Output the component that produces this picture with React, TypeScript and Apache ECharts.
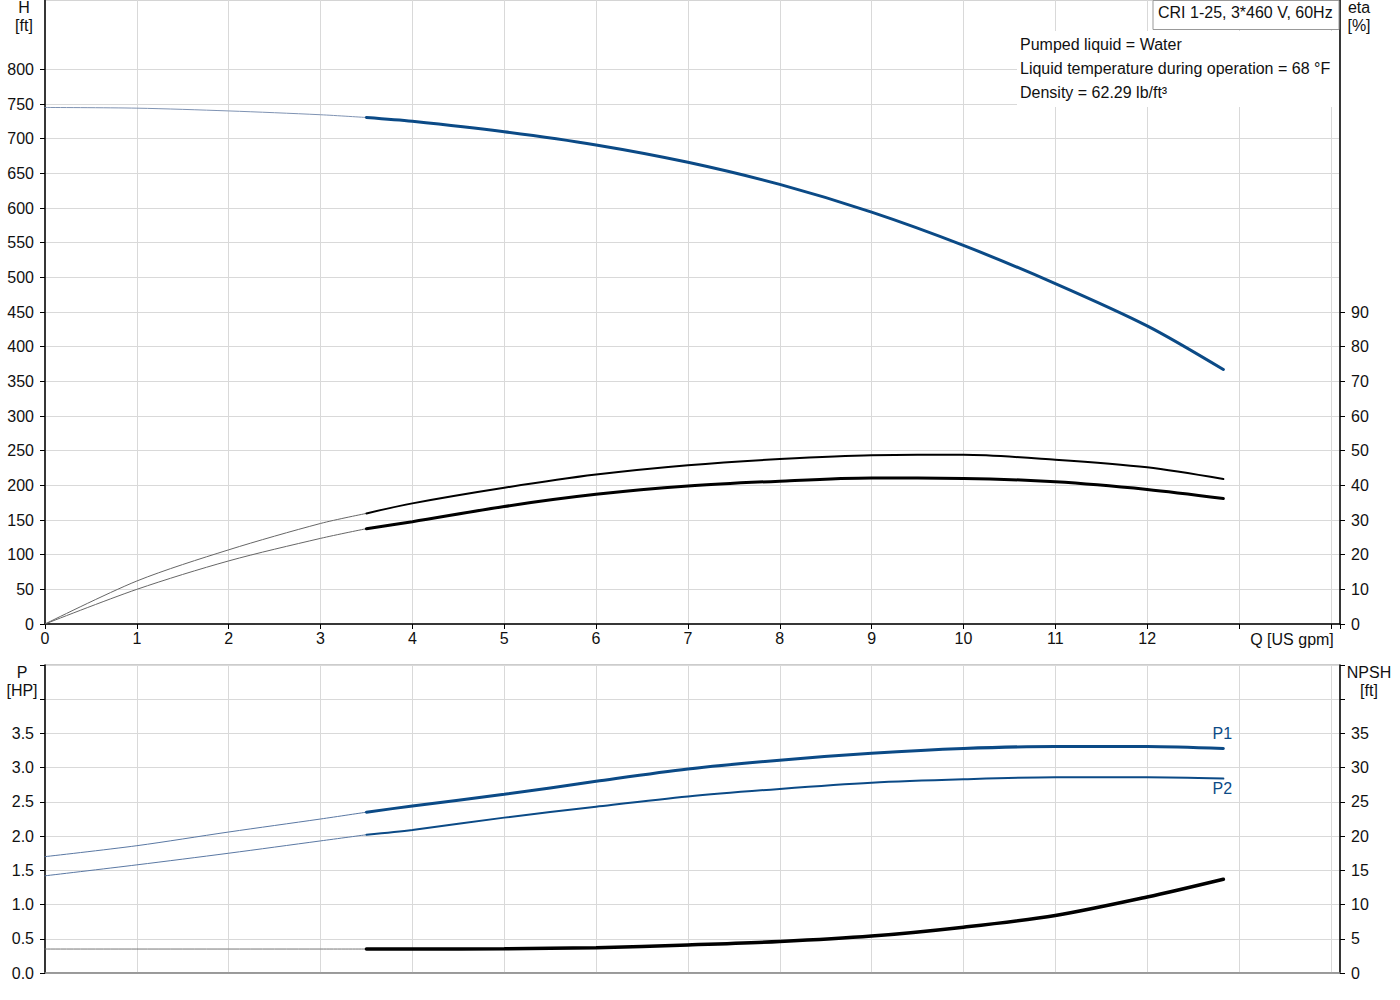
import React, { useEffect, useRef } from 'react';
import * as echarts from 'echarts';

// flow points (US gpm): thin part before the operating range, thick part inside it
const flowThin = [0, 1, 2, 3, 3.5];
const flowThick = [3.5, 4, 5, 6, 7, 8, 9, 10, 11, 12, 12.83];

// head H [ft]
const headThin = [745, 744, 740, 734.5, 730.5];
const headThick = [730.5, 725, 710, 691, 666, 634, 594, 546, 491, 430, 367];

// efficiencies eta [%]
const etaUpperThin = [0, 12.4, 21.4, 29.0, 31.9];
const etaUpperThick = [31.9, 34.8, 39.3, 43.1, 45.8, 47.6, 48.7, 48.8, 47.4, 45.2, 41.8];
const etaLowerThin = [0, 10.0, 18.2, 24.7, 27.5];
const etaLowerThick = [27.5, 29.5, 33.9, 37.4, 39.8, 41.2, 42.1, 42.0, 41.0, 38.8, 36.2];

// power P [HP]
const p1Thin = [1.70, 1.86, 2.06, 2.25, 2.35];
const p1Thick = [2.35, 2.44, 2.61, 2.80, 2.98, 3.11, 3.21, 3.28, 3.31, 3.31, 3.28];
const p2Thin = [1.42, 1.58, 1.75, 1.93, 2.02];
const p2Thick = [2.02, 2.09, 2.27, 2.43, 2.58, 2.69, 2.78, 2.83, 2.86, 2.86, 2.84];

// NPSH [ft]
const npshThin = [3.5, 3.5, 3.5, 3.5, 3.5];
const npshThick = [3.5, 3.5, 3.55, 3.7, 4.1, 4.6, 5.4, 6.7, 8.4, 11.1, 13.7];

// tick labels
const qLabels = [0, 1, 2, 3, 4, 5, 6, 7, 8, 9, 10, 11, 12];
const hLabels = [0, 50, 100, 150, 200, 250, 300, 350, 400, 450, 500, 550, 600, 650, 700, 750, 800];
const etaLabels = [0, 10, 20, 30, 40, 50, 60, 70, 80, 90];
const pLabels = [0, 0.5, 1, 1.5, 2, 2.5, 3, 3.5];
const npshLabels = [0, 5, 10, 15, 20, 25, 30, 35];

const infoLines = [
  'Pumped liquid = Water',
  'Liquid temperature during operation = 68 °F',
  'Density = 62.29 lb/ft³',
];

const BLUE = '#0b4a86';
const FONT = '"Liberation Sans", Arial, sans-serif';
const FS = 16;

const pts = (xs: number[], ys: number[]) => xs.map((x, i) => [x, ys[i]]);

const App = () => {
  const chartRef = useRef<any>(null);

  useEffect(() => {
    const chart = echarts.init(chartRef.current, null, { renderer: 'svg' });

    const line = (name: string, data: number[][], x: number, y: number, color: string, width: number, extra: any = {}) => ({
      name,
      type: 'line',
      xAxisIndex: x,
      yAxisIndex: y,
      data,
      smooth: 0.3,
      showSymbol: false,
      symbol: 'none',
      lineStyle: { color, width, cap: 'round' },
      silent: true,
      ...extra,
    });

    const xBase = {
      type: 'value',
      min: 0,
      max: 14.1,
      interval: 1,
      splitLine: { show: true, lineStyle: { color: '#d9d9d9', width: 1 } },
    };

    const label = (text: string, x: number, y: number, align = 'center') => ({
      type: 'text',
      z: 101,
      x,
      y,
      style: { text, font: `${FS}px ${FONT}`, fill: '#111', textAlign: align, textVerticalAlign: 'middle' },
    });

    const option: any = {
      animation: false,
      textStyle: { fontFamily: FONT, fontSize: FS, color: '#111' },
      grid: [
        { left: 45, width: 1295, top: 0, height: 624, show: true, borderColor: '#aaa', borderWidth: 1 },
        { left: 45, width: 1295, top: 665, height: 308, show: true, borderColor: '#999', borderWidth: 1 },
      ],
      xAxis: [
        {
          ...xBase,
          gridIndex: 0,
          axisLine: { show: true, onZero: false, lineStyle: { color: '#000', width: 1.5 } },
          axisTick: { show: true, length: 5, lineStyle: { color: '#000' } },
          axisLabel: { customValues: qLabels, margin: 6, color: '#111', fontSize: FS },
        },
        {
          ...xBase,
          gridIndex: 1,
          axisLine: { show: true, onZero: false, lineStyle: { color: '#888', width: 1.5 } },
          axisTick: { show: false },
          axisLabel: { show: false },
        },
      ],
      yAxis: [
        {
          type: 'value',
          gridIndex: 0,
          position: 'left',
          min: 0,
          max: 900,
          interval: 50,
          axisLine: { show: true, lineStyle: { color: '#000', width: 1.5 } },
          axisTick: { show: true, length: 5, customValues: hLabels, lineStyle: { color: '#000' } },
          axisLabel: { customValues: hLabels, margin: 11, color: '#111', fontSize: FS },
          splitLine: { show: true, lineStyle: { color: '#d9d9d9', width: 1 } },
        },
        {
          type: 'value',
          gridIndex: 0,
          position: 'right',
          min: 0,
          max: 180,
          interval: 10,
          axisLine: { show: true, lineStyle: { color: '#000', width: 1.5 } },
          axisTick: { show: true, length: 5, customValues: etaLabels, lineStyle: { color: '#000' } },
          axisLabel: { customValues: etaLabels, margin: 11, color: '#111', fontSize: FS },
          splitLine: { show: false },
        },
        {
          type: 'value',
          gridIndex: 1,
          position: 'left',
          min: 0,
          max: 4.5,
          interval: 0.5,
          axisLine: { show: true, lineStyle: { color: '#000', width: 1.5 } },
          axisTick: { show: true, length: 5, lineStyle: { color: '#000' } },
          axisLabel: {
            customValues: pLabels,
            margin: 11,
            color: '#111',
            fontSize: FS,
            formatter: (v: number) => v.toFixed(1),
          },
          splitLine: { show: true, lineStyle: { color: '#d9d9d9', width: 1 } },
        },
        {
          type: 'value',
          gridIndex: 1,
          position: 'right',
          min: 0,
          max: 45,
          interval: 5,
          axisLine: { show: true, lineStyle: { color: '#000', width: 1.5 } },
          axisTick: { show: true, length: 5, lineStyle: { color: '#000' } },
          axisLabel: { customValues: npshLabels, margin: 11, color: '#111', fontSize: FS },
          splitLine: { show: false },
        },
      ],
      series: [
        line('H thin', pts(flowThin, headThin), 0, 0, '#7f93b3', 1),
        line('H', pts(flowThick, headThick), 0, 0, BLUE, 3),
        line('eta upper thin', pts(flowThin, etaUpperThin), 0, 1, '#666', 1),
        line('eta upper', pts(flowThick, etaUpperThick), 0, 1, '#000', 2),
        line('eta lower thin', pts(flowThin, etaLowerThin), 0, 1, '#666', 1),
        line('eta lower', pts(flowThick, etaLowerThick), 0, 1, '#000', 3),
        line('P1 thin', pts(flowThin, p1Thin), 1, 2, '#5a78a3', 1),
        line('P1', pts(flowThick, p1Thick), 1, 2, BLUE, 3, {
          endLabel: { show: true, formatter: 'P1', color: BLUE, fontSize: FS, align: 'center', distance: 0, offset: [-1, -15] },
        }),
        line('P2 thin', pts(flowThin, p2Thin), 1, 2, '#5a78a3', 1),
        line('P2', pts(flowThick, p2Thick), 1, 2, BLUE, 2, {
          endLabel: { show: true, formatter: 'P2', color: BLUE, fontSize: FS, align: 'center', distance: 0, offset: [-1, 10] },
        }),
        line('NPSH thin', pts(flowThin, npshThin), 1, 3, '#777', 1),
        line('NPSH', pts(flowThick, npshThick), 1, 3, '#000', 3.5),
      ],
      graphic: [
        // info box
        { type: 'rect', z: 100, shape: { x: 1017, y: 31, width: 322, height: 76 }, style: { fill: '#fff' } },
        ...infoLines.map((t, i) => label(t, 1020, 44 + i * 24, 'left')),
        // legend box
        { type: 'rect', z: 100, shape: { x: 1153, y: 0.5, width: 186, height: 29 }, style: { fill: '#fff', stroke: '#999', lineWidth: 1 } },
        label('CRI 1-25, 3*460 V, 60Hz', 1158, 12, 'left'),
        // axis names
        label('H', 24, 7),
        label('[ft]', 24, 25),
        label('eta', 1359, 7),
        label('[%]', 1359, 25),
        label('Q [US gpm]', 1292, 639),
        label('P', 22, 672),
        label('[HP]', 22, 690),
        label('NPSH', 1369, 672),
        label('[ft]', 1369, 690),
      ],
    };

    chart.setOption(option);

    return () => {
      chart.dispose();
    };
  }, []);

  return (
    <div
      ref={chartRef}
      style={{ position: 'absolute', left: 0, top: 0, width: '1400px', height: '1000px', background: '#fff' }}
    />
  );
};

export default App;
